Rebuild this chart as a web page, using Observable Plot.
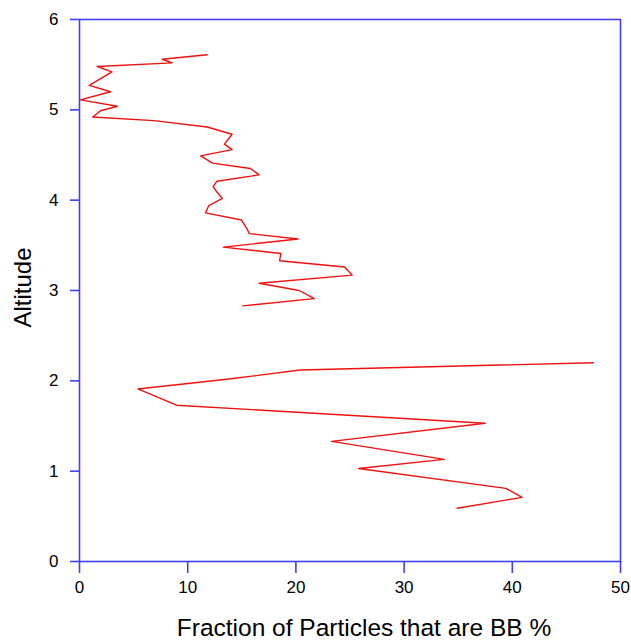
<!DOCTYPE html>
<html>
<head>
<meta charset="utf-8">
<script src="https://cdn.jsdelivr.net/npm/d3@7"></script>
<script src="https://cdn.jsdelivr.net/npm/@observablehq/plot@0.6"></script>
<style>
  html, body { margin: 0; padding: 0; background: #fff; }
</style>
</head>
<body>
<div id="chart"></div>
<script>
// Fraction of particles that are BB (%) versus altitude; NaN separates the two profile segments
const bbFraction = [
  11.8, 7.64, 8.56, 1.63, 3.0, 0.9, 2.87, 0.09, 3.5, 1.94, 1.23, 6.87, 11.8, 14.1,
  13.4, 14.1, 11.2, 12.3, 15.8, 16.6, 12.7, 12.35, 12.7, 13.2, 11.95, 11.65, 14.97,
  15.4, 15.7, 20.2, 13.3, 18.6, 18.5, 24.5, 25.2, 16.6, 20.3, 21.7, 15.1,
  NaN,
  47.5, 20.4, 13.8, 5.39, 8.96, 37.5, 23.3, 33.7, 25.8, 39.4, 40.9, 34.9
];
const altitude = [
  5.61, 5.56, 5.52, 5.48, 5.42, 5.27, 5.20, 5.11, 5.04, 4.99, 4.92, 4.88, 4.81, 4.73,
  4.62, 4.56, 4.49, 4.41, 4.35, 4.28, 4.21, 4.15, 4.09, 4.02, 3.94, 3.86, 3.78,
  3.70, 3.63, 3.57, 3.48, 3.41, 3.33, 3.26, 3.17, 3.08, 3.00, 2.91, 2.83,
  NaN,
  2.20, 2.12, 2.02, 1.91, 1.73, 1.53, 1.33, 1.13, 1.03, 0.81, 0.71, 0.59
];
const xTicks = [0, 10, 20, 30, 40, 50];
const yTicks = [0, 1, 2, 3, 4, 5, 6];
const xTitle = "Fraction of Particles that are BB %";
const yTitle = "Altitude";

const blue = "#4040ee";
const idx = d3.range(bbFraction.length);

const chart = Plot.plot({
  width: 631,
  height: 643,
  marginLeft: 79,
  marginRight: 11,
  marginTop: 19,
  marginBottom: 82,
  style: {fontFamily: "'Liberation Sans', Arial, sans-serif", background: "#fff", color: "#000"},
  x: {domain: [0, 50]},
  y: {domain: [0, 6]},
  marks: [
    Plot.line(idx, {x: (i) => bbFraction[i], y: (i) => altitude[i], stroke: "#ee1111", strokeWidth: 1.4}),
    Plot.frame({stroke: blue, strokeWidth: 1.6}),
    Plot.axisX({ticks: xTicks, tickSize: 12, tickPadding: 7, stroke: blue, strokeWidth: 1.6, fill: "#000", fontSize: 17, label: null, tickFormat: d3.format("d")}),
    Plot.axisY({ticks: yTicks, tickSize: 9, tickPadding: 12, stroke: blue, strokeWidth: 1.6, fill: "#000", fontSize: 17, label: null, tickFormat: d3.format("d")}),
    Plot.text([xTitle], {frameAnchor: "bottom", dx: 14, dy: 67, lineAnchor: "middle", textAnchor: "middle", text: (d) => d, fontSize: 24.5, fill: "#000"}),
    Plot.text([yTitle], {frameAnchor: "left", dx: -56, dy: -3, rotate: -90, lineAnchor: "middle", textAnchor: "middle", text: (d) => d, fontSize: 24, fill: "#000"})
  ]
});
document.getElementById("chart").appendChild(chart);
</script>
</body>
</html>
